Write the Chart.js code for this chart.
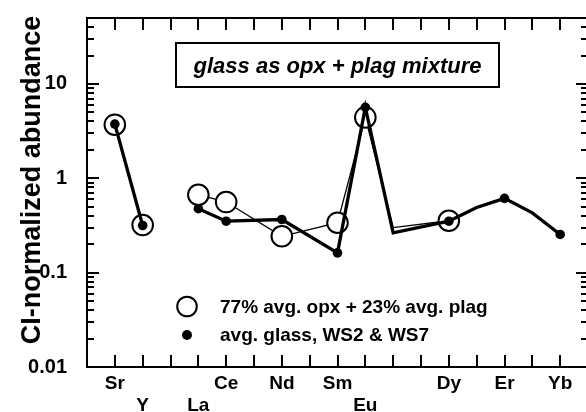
<!DOCTYPE html>
<html>
<head>
<meta charset="utf-8">
<script src="https://cdn.jsdelivr.net/npm/chart.js@4.4.1/dist/chart.umd.min.js"></script>
<style>
  html, body { margin: 0; padding: 0; background: #fff; overflow: hidden; }
  #wrap { position: relative; width: 590px; height: 412px; }
</style>
</head>
<body>
<div id="wrap"><canvas id="chart" width="590" height="412"></canvas></div>
<script>
// ---- data (x positions 1..17, blank slot = break in the lines)
const elements = ['Sr','Y','','La','Ce','Pr','Nd','Pm','Sm','Eu','Gd','Tb','Dy','Ho','Er','Tm','Yb'];
const labelled = ['Sr','Y','La','Ce','Nd','Sm','Eu','Dy','Er','Yb'];
const lowerRow = ['Y','La','Eu'];
const yTicks   = [0.01, 0.1, 1, 10];
const glass    = [3.75, 0.316, null, 0.476, 0.351, null, 0.366, null, 0.162, 5.65, 0.264, null, 0.351, 0.49, 0.613, 0.43, 0.254];
const mixture  = [3.7, 0.32, null, 0.67, 0.56, null, 0.243, null, 0.338, 4.42, 0.30, null, 0.355, null, null, null, null];
const legendLabels = ['77% avg. opx + 23% avg. plag', 'avg. glass, WS2 & WS7'];
const boxTitle = 'glass as opx + plag mixture';
const yTitle   = 'CI-normalized abundance';

const FONT = '"Liberation Sans", Arial, Helvetica, sans-serif';
const X_MAX = elements.length + 1;

const toPoints = vals => {
  const pts = [];
  elements.forEach((el, i) => {
    if (el === '') pts.push({ x: i + 1, y: null });
    else if (vals[i] != null) pts.push({ x: i + 1, y: vals[i], el });
  });
  return pts;
};
const isMarked = ctx => !!(ctx.raw && labelled.includes(ctx.raw.el));

// ---- frame + inward ticks, title box, legend
const frame = {
  id: 'frame',
  beforeDatasetsDraw(chart) {
    const { ctx, chartArea: a, scales: { x, y } } = chart;
    ctx.save();
    ctx.strokeStyle = '#000';
    ctx.lineWidth = 2;
    ctx.strokeRect(a.left, a.top, a.right - a.left, a.bottom - a.top);
    ctx.beginPath();
    for (let i = 1; i < X_MAX; i++) {
      const px = Math.round(x.getPixelForValue(i));
      ctx.moveTo(px, a.bottom); ctx.lineTo(px, a.bottom - 12);
      ctx.moveTo(px, a.top);    ctx.lineTo(px, a.top + 12);
    }
    for (let d = -2; d <= 1; d++) {
      for (let m = 1; m <= 9; m++) {
        const v = m * Math.pow(10, d);
        if (v > y.max * 0.999 || v < y.min) continue;
        const py = Math.round(y.getPixelForValue(v));
        const len = m === 1 ? 12 : 7;
        ctx.moveTo(a.left, py);  ctx.lineTo(a.left + len, py);
        ctx.moveTo(a.right, py); ctx.lineTo(a.right - len, py);
      }
    }
    ctx.stroke();
    ctx.restore();
  },
  afterDraw(chart) {
    const { ctx, chartArea: a } = chart;
    ctx.save();
    ctx.fillStyle = '#000';
    ctx.strokeStyle = '#000';

    // y title
    ctx.save();
    ctx.translate(40, 180);
    ctx.rotate(-Math.PI / 2);
    ctx.font = `bold 27px ${FONT}`;
    ctx.textAlign = 'center';
    ctx.textBaseline = 'alphabetic';
    ctx.fillText(yTitle, 0, 0);
    ctx.restore();

    // title box
    const bx = a.left + 89, by = a.top + 25, bw = 323, bh = 44;
    ctx.lineWidth = 2;
    ctx.strokeRect(bx, by, bw, bh);
    ctx.font = `italic bold 22px ${FONT}`;
    ctx.textAlign = 'center';
    ctx.textBaseline = 'alphabetic';
    ctx.fillText(boxTitle, bx + bw / 2, by + 30);

    // legend
    const lx = a.left + 100, tx = a.left + 133;
    ctx.beginPath();
    ctx.arc(lx, 306.5, 9.8, 0, Math.PI * 2);
    ctx.fillStyle = '#fff'; ctx.fill();
    ctx.lineWidth = 2; ctx.stroke();
    ctx.fillStyle = '#000';
    ctx.beginPath();
    ctx.arc(lx, 335, 5, 0, Math.PI * 2);
    ctx.fill();
    ctx.font = `bold 19px ${FONT}`;
    ctx.textAlign = 'left';
    ctx.fillText(legendLabels[0], tx, 313);
    ctx.fillText(legendLabels[1], tx, 341);
    ctx.restore();
  }
};

new Chart(document.getElementById('chart').getContext('2d'), {
  type: 'line',
  data: {
    datasets: [
      {
        label: legendLabels[1],
        data: toPoints(glass),
        borderColor: '#000',
        borderWidth: 3.3,
        pointRadius: ctx => isMarked(ctx) ? 4.8 : 0,
        pointBackgroundColor: '#000',
        pointBorderWidth: 0,
        spanGaps: false,
        tension: 0
      },
      {
        label: legendLabels[0],
        data: toPoints(mixture),
        borderColor: '#000',
        borderWidth: 1.3,
        pointRadius: ctx => isMarked(ctx) ? 10.3 : 0,
        pointBackgroundColor: '#fff',
        pointBorderColor: '#000',
        pointBorderWidth: 2,
        spanGaps: false,
        tension: 0
      }
    ]
  },
  options: {
    responsive: false,
    devicePixelRatio: 1,
    animation: false,
    events: [],
    layout: { autoPadding: false, padding: { top: 18, right: 2, left: 0, bottom: 0 } },
    plugins: { legend: { display: false }, tooltip: { enabled: false } },
    scales: {
      x: {
        type: 'linear', min: 0, max: X_MAX,
        grid: { display: false }, border: { display: false },
        // empty end ticks at 0 and X_MAX keep the label padding at zero
        afterBuildTicks: s => {
          s.ticks = [0, ...labelled.map(el => elements.indexOf(el) + 1), X_MAX].map(v => ({ value: v }));
        },
        afterFit: s => { s.height = 45; },
        ticks: {
          autoSkip: false, maxRotation: 0, padding: -2, color: '#000',
          font: { family: FONT, size: 19, weight: 'bold', lineHeight: 1.15 },
          callback: v => {
            const el = elements[Math.round(v) - 1];
            if (!el) return '';
            return lowerRow.includes(el) ? ['', el] : el;
          }
        }
      },
      y: {
        type: 'logarithmic', min: 0.01, max: 50,
        grid: { display: false }, border: { display: false },
        afterBuildTicks: s => { s.ticks = yTicks.map(v => ({ value: v })); },
        afterFit: s => { s.width = 87; s.paddingTop = 0; s.paddingBottom = 0; },
        ticks: {
          padding: 12, color: '#000',
          font: { family: FONT, size: 20, weight: 'bold' },
          callback: v => String(v)
        }
      }
    }
  },
  plugins: [frame]
});
</script>
</body>
</html>
